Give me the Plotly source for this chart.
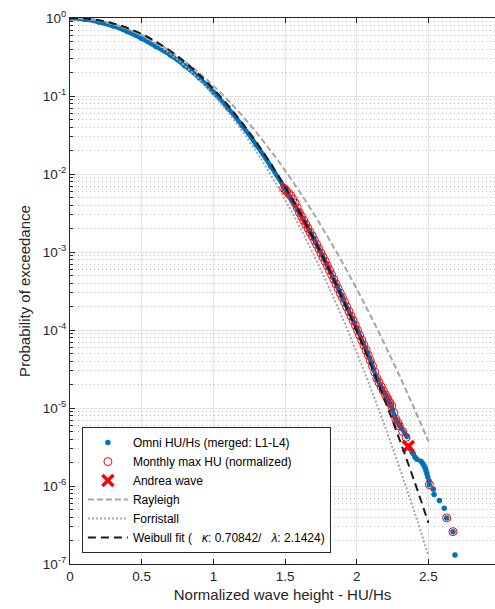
import plotly.graph_objects as go

# ---------------- data ----------------
# Omni HU/Hs empirical exceedance (dense part + sparse tail)
omni_x = [0.0, 0.1, 0.2, 0.3, 0.4, 0.5, 0.6, 0.7, 0.8, 0.9, 1.0, 1.1, 1.2, 1.3, 1.4,
          1.5, 1.6, 1.7, 1.8, 1.9, 2.0, 2.1, 2.14, 2.2, 2.24, 2.27, 2.3, 2.35,
          2.36, 2.372, 2.385, 2.394, 2.406, 2.42, 2.448, 2.46, 2.469, 2.478, 2.483,
          2.49, 2.495, 2.504, 2.506, 2.534, 2.539, 2.576, 2.610, 2.627, 2.671, 2.685]
omni_p = [1.0, 0.965, 0.89, 0.79, 0.67, 0.545, 0.43, 0.335, 0.245, 0.172, 0.112, 0.0705,
          0.042, 0.0236, 0.0126, 0.0065, 0.0032, 0.00148, 0.00064, 0.00026, 0.000105,
          3.9e-5, 2.4e-5, 1.48e-5, 1.07e-5, 7.3e-6, 5.9e-6, 4.3e-6,
          3.25e-6, 3.0e-6, 2.73e-6, 2.6e-6, 2.34e-6, 2.21e-6, 2.08e-6, 1.95e-6, 1.82e-6,
          1.69e-6, 1.56e-6, 1.43e-6, 1.3e-6, 1.17e-6, 1.04e-6, 9.1e-7, 7.8e-7, 6.5e-7,
          5.2e-7, 3.9e-7, 2.6e-7, 1.3e-7]
omni_dense_count = 28

# Monthly maxima (normalized)
mm_x = [1.49, 1.50, 1.51, 1.525, 1.54, 1.555, 1.57, 1.585, 1.60, 1.615, 1.63, 1.645,
        1.66, 1.675, 1.69, 1.705, 1.72, 1.735, 1.75, 1.765, 1.78, 1.795, 1.81, 1.825,
        1.84, 1.855, 1.87, 1.885, 1.90, 1.915, 1.93, 1.945, 1.96, 1.975, 1.99, 2.005,
        2.02, 2.035, 2.05, 2.065, 2.08, 2.095, 2.11, 2.125, 2.14, 2.155, 2.17, 2.185,
        2.20, 2.21, 2.22, 2.232, 2.244, 2.258, 2.272, 2.285, 2.297, 2.32, 2.344,
        2.506, 2.627, 2.671]
mm_p = [6.6e-3, 6.32e-3, 6.05e-3, 5.64e-3, 5.26e-3, 4.72e-3, 4.25e-3, 3.68e-3, 3.2e-3,
        2.85e-3, 2.54e-3, 2.26e-3, 2.01e-3, 1.79e-3, 1.6e-3, 1.41e-3, 1.25e-3, 1.10e-3,
        9.7e-4, 8.59e-4, 7.6e-4, 6.67e-4, 5.85e-4, 5.11e-4, 4.47e-4, 3.89e-4, 3.4e-4,
        2.97e-4, 2.6e-4, 2.27e-4, 1.98e-4, 1.73e-4, 1.51e-4, 1.32e-4, 1.15e-4, 9.93e-5,
        8.6e-5, 7.41e-5, 6.4e-5, 5.51e-5, 4.75e-5, 4.05e-5, 3.45e-5, 2.88e-5, 2.4e-5,
        2.12e-5, 1.88e-5, 1.67e-5, 1.48e-5, 1.36e-5, 1.26e-5, 1.15e-5, 1.06e-5, 8.73e-6,
        7.2e-6, 6.52e-6, 5.9e-6, 5.0e-6, 4.2e-6, 1.04e-6, 3.9e-7, 2.6e-7]

# Andrea wave
andrea_x = [2.36]
andrea_p = [3.2e-6]

# Model curves
model_x = [0.0, 0.1, 0.2, 0.3, 0.4, 0.5, 0.6, 0.7, 0.8, 0.9, 1.0, 1.1, 1.2, 1.3,
           1.4, 1.5, 1.6, 1.7, 1.8, 1.9, 2.0, 2.1, 2.2, 2.3, 2.4, 2.5]
rayleigh_p = [1.0, 0.9802, 0.9231, 0.8353, 0.7261, 0.6065, 0.4868, 0.3753, 0.2780,
              0.1979, 0.1353, 0.08892, 0.05613, 0.03405, 0.01984, 0.01111, 0.005976,
              0.003089, 0.001534, 0.0007318, 0.0003355, 0.0001477, 6.252e-5, 2.542e-5,
              9.93e-6, 3.73e-6]
forristall_p = [1.0, 0.9832, 0.9287, 0.8395, 0.7242, 0.5954, 0.4658, 0.3464, 0.2445,
                0.1638, 0.1040, 0.06255, 0.03563, 0.01918, 0.009772, 0.004706, 0.002139,
                0.0009185, 0.0003722, 0.0001423, 5.124e-5, 1.740e-5, 5.570e-6, 1.6785e-6,
                4.764e-7, 1.2727e-7]
weibull_p = [1.0, 0.98504, 0.9356, 0.8533, 0.7453, 0.6225, 0.4963, 0.3773, 0.2732,
             0.1882, 0.12334, 0.07676, 0.04537, 0.02544, 0.01352, 0.006813, 0.003252,
             0.001469, 0.000628, 0.000254, 9.709e-5, 3.5076e-5, 1.1972e-5, 3.857e-6,
             1.1735e-6, 3.369e-7]

x_ticks = [0, 0.5, 1, 1.5, 2, 2.5, 3]
x_ticktext = ["0", "0.5", "1", "1.5", "2", "2.5", "3"]
y_ticks = [1e-7, 1e-6, 1e-5, 1e-4, 1e-3, 1e-2, 1e-1, 1e0]
y_ticktext = ["10<sup>-7</sup>", "10<sup>-6</sup>", "10<sup>-5</sup>", "10<sup>-4</sup>",
              "10<sup>-3</sup>", "10<sup>-2</sup>", "10<sup>-1</sup>", "10<sup>0</sup>"]
y_minor = [m * 10.0 ** e for e in range(-7, 0) for m in range(2, 10)]

# ---------------- figure ----------------
BLUE = "#0072BD"
AX = "#262626"
FONT = "Liberation Sans, Arial, Helvetica, sans-serif"

fig = go.Figure()

# dense band of omni points
fig.add_trace(go.Scatter(
    x=omni_x[:omni_dense_count], y=omni_p[:omni_dense_count], mode="lines",
    line=dict(color=BLUE, width=4.5, shape="spline"), showlegend=False,
    hoverinfo="skip"))
fig.add_trace(go.Scatter(
    x=omni_x, y=omni_p, mode="markers", name="Omni HU/Hs (merged: L1-L4)",
    marker=dict(color=BLUE, size=5.5, line=dict(width=0))))
fig.add_trace(go.Scatter(
    x=mm_x, y=mm_p, mode="markers", name="Monthly max HU (normalized)",
    marker=dict(symbol="circle-open", color="#FF0000", size=8, line=dict(width=1))))
fig.add_trace(go.Scatter(
    x=andrea_x, y=andrea_p, mode="markers", name="Andrea wave",
    marker=dict(symbol="x-thin-open", color="#FF0000", size=11,
                line=dict(width=3.5, color="#FF0000"))))
fig.add_trace(go.Scatter(
    x=model_x, y=rayleigh_p, mode="lines", name="Rayleigh",
    line=dict(color="#A6A6A6", width=2, dash="6px,3px", shape="spline")))
fig.add_trace(go.Scatter(
    x=model_x, y=forristall_p, mode="lines", name="Forristall",
    line=dict(color="#A6A6A6", width=2, dash="2px,2px", shape="spline")))
fig.add_trace(go.Scatter(
    x=model_x, y=weibull_p, mode="lines",
    name="Weibull fit (\u00a0\u00a0\u00a0<i>\u03ba</i>: 0.70842/\u00a0\u00a0\u00a0<i>\u03bb</i>: 2.1424)",
    line=dict(color="#1A1A1A", width=2, dash="8px,5px", shape="spline")))

fig.update_layout(
    width=495, height=609,
    margin=dict(l=70, r=0, t=18, b=45, pad=0),
    paper_bgcolor="white", plot_bgcolor="white",
    font=dict(family=FONT, color=AX, size=13),
    showlegend=True,
    legend=dict(
        x=0.028, y=0.02, xanchor="left", yanchor="bottom",
        bgcolor="white", bordercolor=AX, borderwidth=1,
        font=dict(size=12, color="#000000", family=FONT),
        itemwidth=40, tracegroupgap=0,
    ),
)

fig.update_xaxes(
    range=[0, 2.964], tickvals=x_ticks, ticktext=x_ticktext,
    ticks="inside", ticklen=5, tickcolor=AX, tickwidth=1,
    showline=True, linecolor=AX, linewidth=1, mirror="ticks",
    showgrid=True, gridcolor="#E3E3E3", gridwidth=1, zeroline=False,
    tickfont=dict(size=13.5, color=AX),
    title=dict(text="Normalized wave height - HU/Hs", font=dict(size=15, color=AX), standoff=6),
)
fig.update_yaxes(
    type="log", range=[-7, 0], tickvals=y_ticks, ticktext=y_ticktext,
    ticks="inside", ticklen=5, tickcolor=AX, tickwidth=1,
    showline=True, linecolor=AX, linewidth=1, mirror=False,
    showgrid=True, gridcolor="#E3E3E3", gridwidth=1, zeroline=False,
    tickfont=dict(size=13.5, color=AX),
    minor=dict(tickvals=y_minor, ticks="inside", ticklen=3, tickcolor=AX,
               showgrid=True, gridcolor="#BEBEBE", griddash="1px,3px", gridwidth=1),
    title=dict(text="Probability of exceedance", font=dict(size=15, color=AX), standoff=8),
)

fig.write_html("out.html")
